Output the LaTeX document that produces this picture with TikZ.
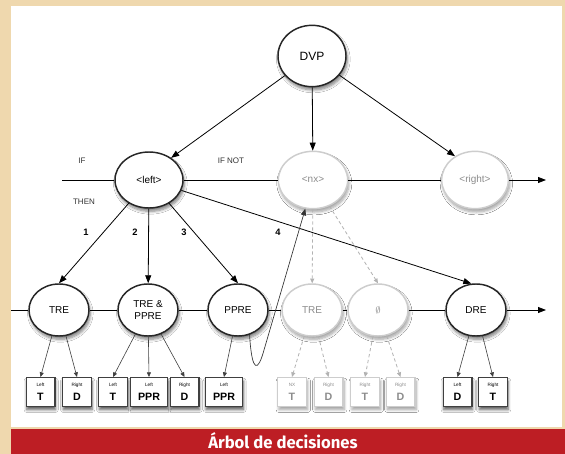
\documentclass[tikz,border=0pt]{standalone}
\usepackage{fontspec}
\setmainfont{Liberation Sans}
\newfontfamily\titlefont{Fira Sans}
\usetikzlibrary{shapes.geometric,arrows.meta,shadows.blur}
\definecolor{tanbg}{RGB}{239,216,174}
\definecolor{barred}{RGB}{189,30,36}
\definecolor{fadegray}{RGB}{205,205,205}
\newcommand{\lr}[2]{{\fontsize{3.5}{4}\selectfont #1}\\[-1.5pt]{\bfseries\fontsize{8}{8}\selectfont #2}}

\begin{document}
\begin{tikzpicture}[x=0.75pt,y=0.75pt,yscale=-1,xscale=1,
    state/.style={ellipse,draw=black!85,line width=1.1pt,fill=white,inner sep=0pt,
      minimum width=45pt,minimum height=39pt,font=\fontsize{7.5}{8}\selectfont,
      blur shadow={shadow xshift=1pt,shadow yshift=-2.5pt,shadow blur steps=6,shadow opacity=50}},
    faded/.style={draw=fadegray,text=black!45,
      blur shadow={shadow xshift=1pt,shadow yshift=-2.5pt,shadow blur steps=6,shadow opacity=20}},
    leaf/.style={rectangle,draw=black!75,line width=1pt,fill=white,inner sep=1pt,
      minimum width=21.5pt,minimum height=21.5pt,align=center,
      blur shadow={shadow xshift=0.5pt,shadow yshift=-2.5pt,shadow blur steps=5,shadow opacity=65}},
    wide/.style={minimum width=28pt},
    arr/.style={-{Triangle[length=6pt,width=4.5pt]},line width=0.6pt},
    leafarr/.style={-{Triangle[length=3.5pt,width=3pt]},line width=0.45pt,draw=black!75},
    ghostarr/.style={-{Triangle[length=3.5pt,width=3pt]},line width=0.6pt,draw=black!30,dash pattern=on 2.5pt off 2pt},
    lab/.style={font=\fontsize{6}{6}\selectfont,text=black!80},
    num/.style={font=\bfseries\fontsize{7}{7}\selectfont}
  ]
  \useasboundingbox (0,0) rectangle (565,454);
  % background
  \fill[tanbg] (0,0) rectangle (565,454);
  \fill[white] (11,6) rectangle (562,427);
  \fill[barred] (11,429) rectangle (565,454);
  \node[text=white,font=\titlefont\bfseries\fontsize{12.5}{13}\selectfont] (title) at (283,441) {Árbol de decisiones};

  % top level
  \node[state,minimum width=51pt,minimum height=46pt,font=\fontsize{9}{9}\selectfont] (dvp) at (312,56) {DVP};
  \node[state,minimum width=51pt,minimum height=42pt] (left) at (149,180) {<left>};
  \node[state,faded,minimum width=52pt,minimum height=43pt] (nx) at (313,180) {<nx>};
  \node[state,faded,minimum width=50pt,minimum height=43pt] (right) at (475,180) {<right>};
  \coordinate (ifin) at (62,180);
  \coordinate (rout) at (546,180);

  % second row
  \node[state] (tre) at (59,310) {TRE};
  \node[state,align=center,font=\fontsize{7.5}{8.5}\selectfont] (trepp) at (148,310) {TRE \&\\PPRE};
  \node[state] (ppre) at (238,310) {PPRE};
  \node[state,faded] (tren) at (312,310) {TRE};
  \node[state,faded] (none) at (378,310) {$\emptyset$};
  \node[state] (dre) at (476,310) {DRE};
  \coordinate (rowin) at (11,310);
  \coordinate (rowout) at (546,310);

  % leaves
  \node[leaf] (b1) at (40.5,392) {\lr{Left}{T}};
  \node[leaf] (b2) at (77,392) {\lr{Right}{D}};
  \node[leaf] (b3) at (113,392) {\lr{Left}{T}};
  \node[leaf,wide] (b4) at (149,392) {\lr{Left}{PPR}};
  \node[leaf] (b5) at (184.5,392) {\lr{Right}{D}};
  \node[leaf,wide] (b6) at (224,392) {\lr{Left}{PPR}};
  \node[leaf,faded] (b7) at (292,392) {\lr{NX}{T}};
  \node[leaf,faded] (b8) at (328.5,392) {\lr{Right}{D}};
  \node[leaf,faded] (b9) at (365,392) {\lr{Right}{T}};
  \node[leaf,faded] (b10) at (400.5,392) {\lr{Right}{D}};
  \node[leaf] (b11) at (457.5,392) {\lr{Left}{D}};
  \node[leaf] (b12) at (493,392) {\lr{Right}{T}};

  % labels
  \node[lab] (lif) at (82,161) {IF};
  \node[lab] (lthen) at (84,202) {THEN};
  \node[lab] (lifnot) at (231,161) {IF NOT};
  \node[num] (n1) at (86,232) {1};
  \node[num] (n2) at (135,232) {2};
  \node[num] (n3) at (184,232) {3};
  \node[num] (n4) at (278,232) {4};

  % connectors
  \draw[arr] (dvp) -- (left.45);
  \draw[arr] (dvp) -- (nx);
  \draw[arr] (dvp) -- (right.130);
  \draw[line width=0.6pt] (ifin) -- (left) (left) -- (nx) (nx) -- (right);
  \draw[arr] (right) -- (rout);
  \draw[arr] (left) -- (tre.north);
  \draw[arr] (left) -- (trepp);
  \draw[arr] (left) -- (ppre.north);
  \draw[arr] (left) -- (dre.100);
  \draw[line width=0.6pt] (rowin) -- (tre) (tre) -- (trepp) (trepp) -- (ppre) (ppre) -- (tren)
    (tren) -- (none) (none) -- (dre);
  \draw[arr] (dre) -- (rowout);
  \draw[ghostarr] (nx) -- (tren);
  \draw[ghostarr] (nx) -- (none.north);
  \draw[-{Triangle[length=5pt,width=4pt]},line width=0.5pt,draw=black!80] (ppre.-65) .. controls (252,374) and (258,372) .. (264,350) -- (nx.-105);

  \draw[leafarr] (tre) -- (b1.north);
  \draw[leafarr] (tre) -- (b2.north);
  \draw[leafarr] (trepp) -- (b3.north);
  \draw[leafarr] (trepp) -- (b4.north);
  \draw[leafarr] (trepp) -- (b5.north);
  \draw[leafarr] (ppre) -- (b6.north);
  \draw[ghostarr] (tren) -- (b7.north);
  \draw[ghostarr] (tren) -- (b8.north);
  \draw[ghostarr] (none) -- (b9.north);
  \draw[ghostarr] (none) -- (b10.north);
  \draw[leafarr] (dre) -- (b11.north);
  \draw[leafarr] (dre) -- (b12.north);
\end{tikzpicture}
\end{document}
